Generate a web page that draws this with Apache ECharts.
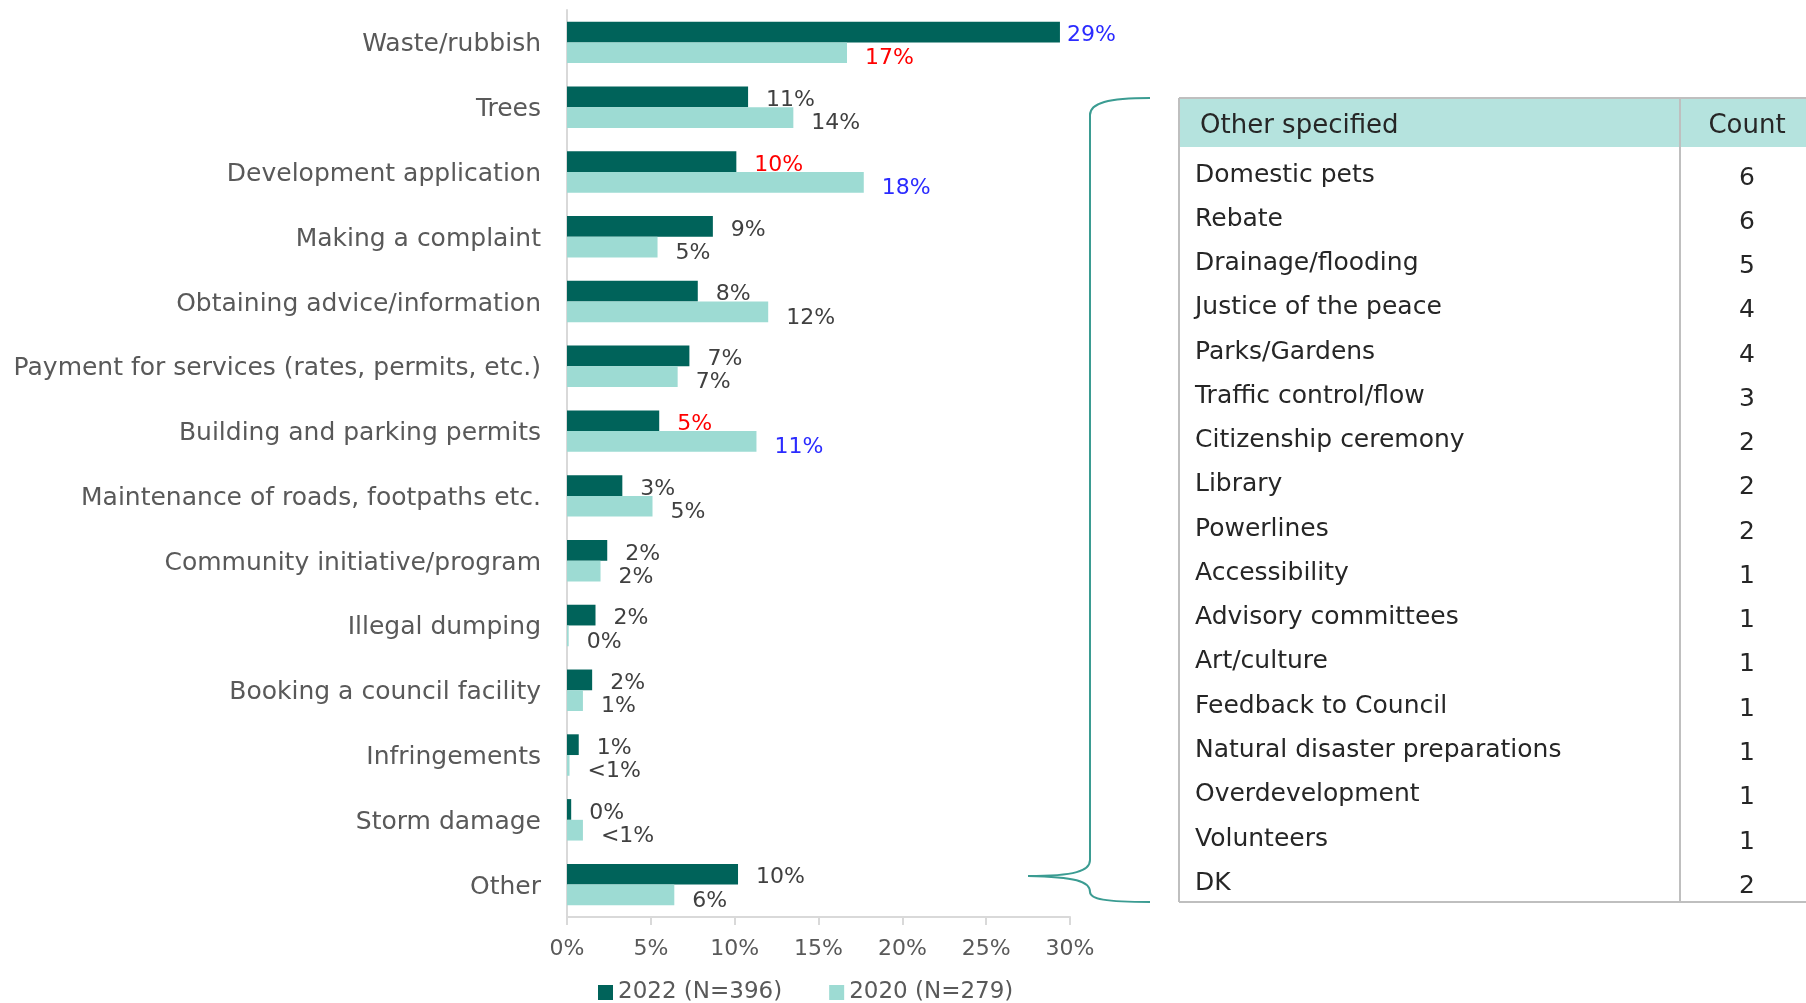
<!DOCTYPE html>
<html><head><meta charset="utf-8">
<script src="https://cdn.jsdelivr.net/npm/echarts@6/dist/echarts.min.js"></script>
<style>html,body{margin:0;padding:0;background:#fff}#c{width:1806px;height:1003px}</style>
</head><body><div id="c"></div>
<script>
const categories = ['Waste/rubbish','Trees','Development application','Making a complaint','Obtaining advice/information','Payment for services (rates, permits, etc.)','Building and parking permits','Maintenance of roads, footpaths etc.','Community initiative/program','Illegal dumping','Booking a council facility','Infringements','Storm damage','Other'];
const values2022 = [29.4,10.8,10.1,8.7,7.8,7.3,5.5,3.3,2.4,1.7,1.5,0.7,0.25,10.2];
const values2020 = [16.7,13.5,17.7,5.4,12.0,6.6,11.3,5.1,2.0,0.1,0.95,0.15,0.95,6.4];
const labels2022 = ['29%','11%','10%','9%','8%','7%','5%','3%','2%','2%','2%','1%','0%','10%'];
const labels2020 = ['17%','14%','18%','5%','12%','7%','11%','5%','2%','0%','1%','<1%','<1%','6%'];
const seriesNames = ['2022 (N=396)','2020 (N=279)'];
const xTicks = [0,5,10,15,20,25,30];
const otherNames = ['Domestic pets','Rebate','Drainage/flooding','Justice of the peace','Parks/Gardens','Traffic control/flow','Citizenship ceremony','Library','Powerlines','Accessibility','Advisory committees','Art/culture','Feedback to Council','Natural disaster preparations','Overdevelopment','Volunteers','DK'];
const otherCounts = [6,6,5,4,4,3,2,2,2,1,1,1,1,1,1,1,2];
const tableHeader = ['Other specified','Count'];

// styles (kept separate from data)
const BLUE = '#2b2bff', RED = '#ff0000', GREY = '#404040';
const hl2022 = {0: BLUE, 2: RED, 6: RED};
const hl2020 = {0: RED, 2: BLUE, 6: BLUE};
const FONT = 'DejaVu Sans';

function mk(vals, labs, hl, special) {
  return vals.map((v, i) => {
    const item = { value: v, label: { formatter: labs[i], color: hl[i] || GREY } };
    if (special && special[i] !== undefined) item.label.distance = special[i];
    return item;
  });
}

const chart = echarts.init(document.getElementById('c'), null, {renderer: 'canvas'});

// table graphics
const g = [];
const tX = 1179, tY = 98, tW = 627, hdrH = 49, tBottom = 902, divX = 1680;
g.push({type:'rect', shape:{x:tX, y:tY, width:tW, height:hdrH}, style:{fill:'#b5e3de'}, silent:true});
g.push({type:'line', shape:{x1:tX, y1:tY, x2:1806, y2:tY}, style:{stroke:'#bfbfbf', lineWidth:2}});
g.push({type:'line', shape:{x1:tX, y1:tY, x2:tX, y2:tBottom}, style:{stroke:'#bfbfbf', lineWidth:2}});
g.push({type:'line', shape:{x1:tX, y1:tBottom, x2:1806, y2:tBottom}, style:{stroke:'#bfbfbf', lineWidth:2}});
g.push({type:'line', shape:{x1:divX, y1:tY, x2:divX, y2:tBottom}, style:{stroke:'#bfbfbf', lineWidth:2}});
g.push({type:'text', style:{text:tableHeader[0], x:1200, y:126, fontSize:26, fontFamily:FONT, fill:'#262626', verticalAlign:'middle'}});
g.push({type:'text', style:{text:tableHeader[1], x:1747, y:126, fontSize:26, fontFamily:FONT, fill:'#262626', verticalAlign:'middle', align:'center'}});
otherNames.forEach((n, i) => {
  const y = 175 + i * 44.27;
  g.push({type:'text', style:{text:n, x:1195, y:y, fontSize:25, fontFamily:FONT, fill:'#262626', verticalAlign:'middle'}});
  g.push({type:'text', style:{text:String(otherCounts[i]), x:1747, y:y + 3, fontSize:25, fontFamily:FONT, fill:'#262626', verticalAlign:'middle', align:'center'}});
});
// curly brace
const braceStyle = {stroke:'#3b9c92', lineWidth:2, fill:null};
g.push({type:'bezierCurve', shape:{x1:1150,y1:98,x2:1090,y2:115,cpx1:1108,cpy1:98,cpx2:1090,cpy2:103}, style:braceStyle});
g.push({type:'line', shape:{x1:1090,y1:115,x2:1090,y2:860}, style:braceStyle});
g.push({type:'bezierCurve', shape:{x1:1090,y1:860,x2:1028,y2:876,cpx1:1090,cpy1:871,cpx2:1075,cpy2:876}, style:braceStyle});
g.push({type:'bezierCurve', shape:{x1:1028,y1:876,x2:1090,y2:892,cpx1:1075,cpy1:877,cpx2:1090,cpy2:881}, style:braceStyle});
g.push({type:'bezierCurve', shape:{x1:1090,y1:892,x2:1150,y2:902,cpx1:1090,cpy1:899,cpx2:1105,cpy2:902}, style:braceStyle});

chart.setOption({
  animation: false,
  backgroundColor: '#fff',
  grid: {left: 567, right: 736, top: 10, bottom: 86, containLabel: false},
  legend: {
    data: seriesNames, left: 593, top: 976, itemWidth: 15, itemHeight: 15, itemGap: 47, icon: 'rect',
    textStyle: {fontSize: 23, color: '#595959', fontFamily: FONT}
  },
  xAxis: {
    type: 'value', min: xTicks[0], max: xTicks[xTicks.length-1], interval: 5,
    axisLine: {show: true, lineStyle: {color: '#d9d9d9', width: 2}},
    axisTick: {show: true, length: 8, lineStyle: {color: '#d9d9d9', width: 2}},
    splitLine: {show: false},
    axisLabel: {formatter: '{value}%', fontSize: 22, color: '#595959', fontFamily: FONT, margin: 21}
  },
  yAxis: {
    type: 'category', data: categories, inverse: true,
    axisLine: {show: true, lineStyle: {color: '#d9d9d9', width: 2}},
    axisTick: {show: false},
    axisLabel: {
      margin: 26, formatter: '{a|{value}}',
      rich: {a: {fontSize: 25, color: '#595959', fontFamily: FONT, padding: [5, 0, 0, 0]}}
    }
  },
  series: [
    {name: seriesNames[0], type: 'bar', data: mk(values2022, labels2022, hl2022, {0: 7}),
     itemStyle: {color: '#00635a'}, barGap: '0%', barCategoryGap: '36%',
     label: {show: true, position: 'right', distance: 18, offset: [0, 3.5], fontSize: 22, fontFamily: FONT}},
    {name: seriesNames[1], type: 'bar', data: mk(values2020, labels2020, hl2020),
     itemStyle: {color: '#9ddbd3'}, barGap: '0%', barCategoryGap: '36%',
     label: {show: true, position: 'right', distance: 18, offset: [0, 6], fontSize: 22, fontFamily: FONT}}
  ],
  graphic: g
});
</script></body></html>
